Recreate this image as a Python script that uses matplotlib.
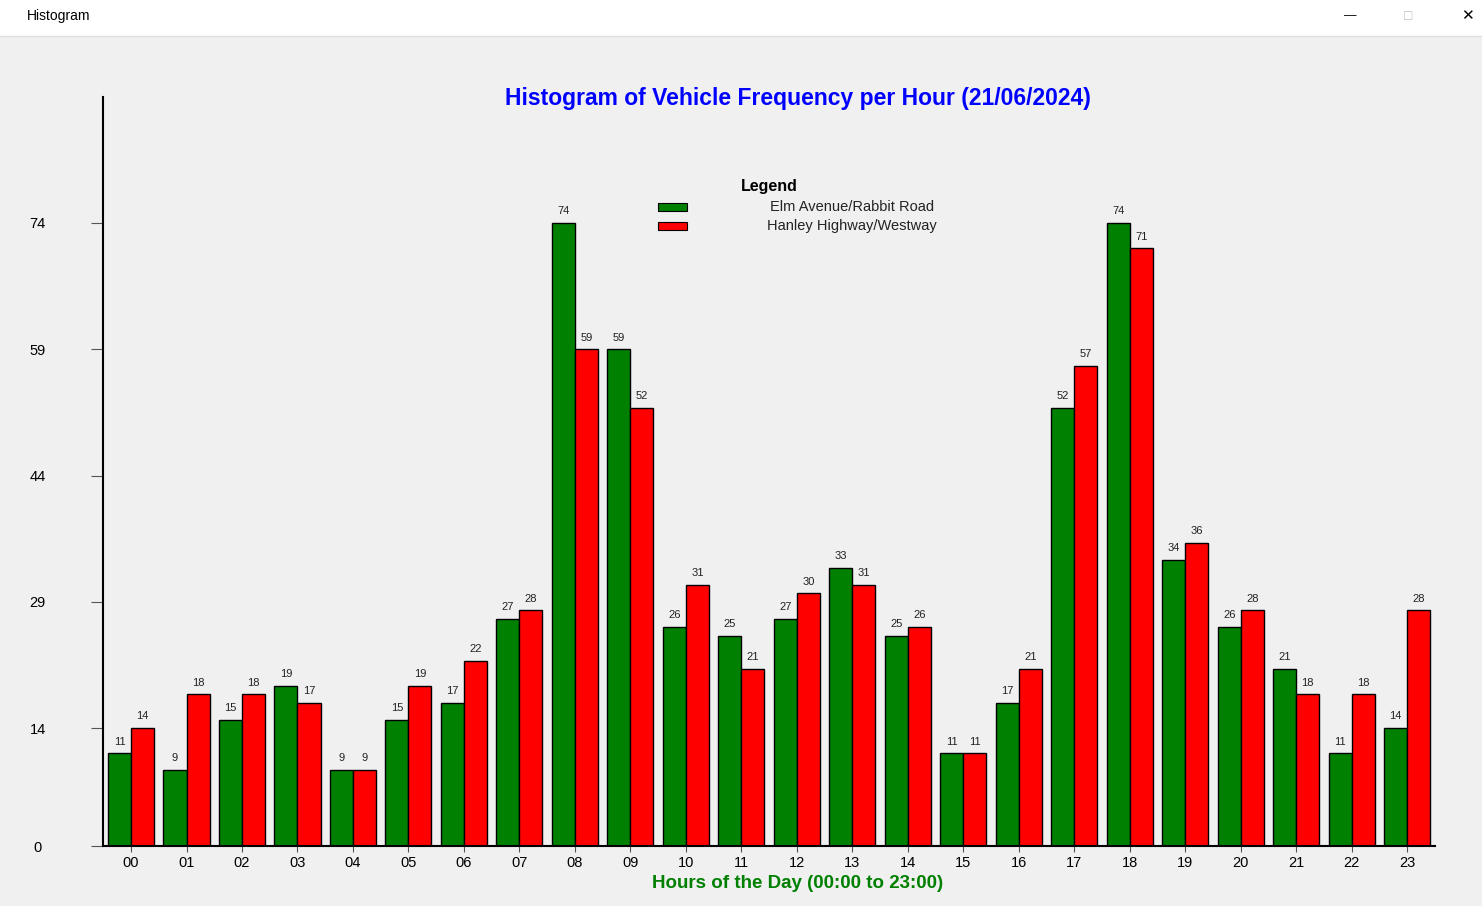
import matplotlib
matplotlib.use("Agg")
import matplotlib.pyplot as plt
from matplotlib.patches import Rectangle

hours = ["%02d" % h for h in range(24)]
elm = [11,9,15,19,9,15,17,27,74,59,26,25,27,33,25,11,17,52,74,34,26,21,11,14]
hanley = [14,18,18,17,9,19,22,28,59,52,31,21,30,31,26,11,21,57,71,36,28,18,18,28]
yticks = [0,14,29,44,59,74]

W, H = 1482, 906
fig = plt.figure(figsize=(W/100, H/100), dpi=100, facecolor="#f0f0f0")
plt.rcParams["font.family"] = "Liberation Sans"

# window title bar
fig.patches.append(Rectangle((0, 1-35/H), 1, 35/H, transform=fig.transFigure, color="white", zorder=0))
fig.add_artist(plt.Line2D([0,1],[1-35.5/H]*2, color="#e0e0e0", lw=1))
fig.text(27/W, 1-16/H, "Histogram", fontsize=10, va="center", ha="left")
fig.text(1350/W, 1-16/H, "—", fontsize=9, va="center", ha="center")
fig.text(1408/W, 1-16/H, "□", fontsize=10, va="center", ha="center", color="#bbbbbb")
fig.text(1467/W, 1-16/H, "✕", fontsize=11, va="center", ha="center", family="DejaVu Sans")

ax = fig.add_axes([103/W, (H-846)/H, (1435-103)/W, (846-97)/H])
ax.set_facecolor("#f0f0f0")
x = list(range(24))
w = 0.415
ax.bar([i - w/2 for i in x], elm, width=w, color="green", edgecolor="black", lw=1)
ax.bar([i + w/2 for i in x], hanley, width=w, color="red", edgecolor="black", lw=1)
for i in x:
    ax.text(i - w/2, elm[i] + 0.8, str(elm[i]), ha="center", va="bottom", fontsize=8, color="#222222")
    ax.text(i + w/2, hanley[i] + 0.8, str(hanley[i]), ha="center", va="bottom", fontsize=8, color="#222222")
ax.set_xlim(-0.505, 23.5)
ax.set_ylim(0, (846-97)/((846-223)/74))
ax.set_yticks(yticks)
ax.set_yticklabels([str(v) for v in yticks], fontsize=10.5)
ax.tick_params(axis="y", length=9, pad=38, color="#555555")
ax.tick_params(axis="x", length=4, pad=3, color="#555555")
ax.set_xticks(x)
ax.set_xticklabels(hours, fontsize=10.5)
for lbl in ax.get_yticklabels():
    lbl.set_ha("center")
for s in ["top", "right"]:
    ax.spines[s].set_visible(False)
ax.spines["left"].set_linewidth(1.5)
ax.spines["bottom"].set_linewidth(1.5)

fig.text(798/W, 1-99/H, "Histogram of Vehicle Frequency per Hour (21/06/2024)", fontsize=16.5,
         fontweight="bold", color="blue", ha="center", va="center")
fig.text(798/W, 1-884/H, "Hours of the Day (00:00 to 23:00)", fontsize=13.5,
         fontweight="bold", color="green", ha="center", va="center")

# legend
fig.text(769/W, 1-186/H, "Legend", fontsize=11.5, fontweight="bold", ha="center", va="center")
for yy, c, t in [(207, "green", "Elm Avenue/Rabbit Road"), (226, "red", "Hanley Highway/Westway")]:
    fig.patches.append(Rectangle((658/W, 1-(yy+4)/H), 29/W, 8/H, transform=fig.transFigure,
                                 facecolor=c, edgecolor="black", lw=0.8))
    fig.text(852/W, 1-yy/H, t, fontsize=10.5, ha="center", va="center", color="#222222")

fig.savefig("out.png", dpi=100, facecolor=fig.get_facecolor())
